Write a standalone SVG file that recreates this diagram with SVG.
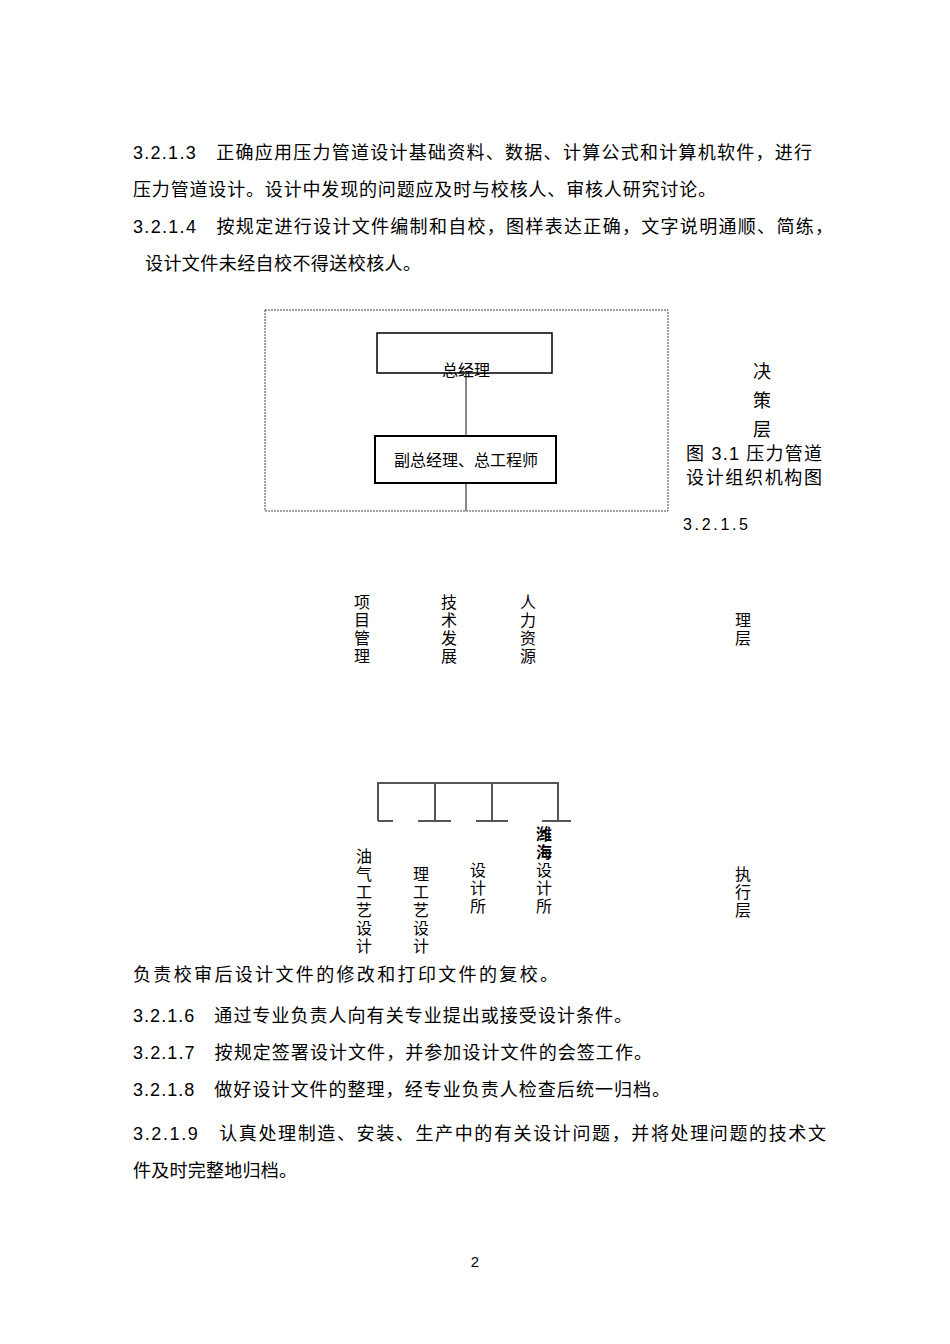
<svg xmlns="http://www.w3.org/2000/svg" width="950" height="1344" viewBox="0 0 950 1344">
<style>
text{font-family:"Liberation Sans","Noto Sans CJK SC",sans-serif;fill:#000}
.b{font-size:18px}
.v{font-size:16px}
.box{fill:#fff;stroke:#000}
.ln{stroke:#888;stroke-width:2;fill:none}
.ln2{stroke:#555;stroke-width:2;fill:none}
</style>
<rect width="950" height="1344" fill="#fff"/>
<g class="b" lengthAdjust="spacing">
<text x="133" y="159" textLength="679">3.2.1.3　正确应用压力管道设计基础资料、数据、计算公式和计算机软件，进行</text>
<text x="133" y="196" textLength="583">压力管道设计。设计中发现的问题应及时与校核人、审核人研究讨论。</text>
<text x="133" y="233" textLength="700">3.2.1.4　按规定进行设计文件编制和自校，图样表达正确，文字说明通顺、简练，</text>
<text x="145" y="270" textLength="276">设计文件未经自校不得送校核人。</text>
<text x="133" y="981" textLength="425">负责校审后设计文件的修改和打印文件的复校。</text>
<text x="133" y="1022" textLength="499">3.2.1.6　通过专业负责人向有关专业提出或接受设计条件。</text>
<text x="133" y="1059" textLength="519">3.2.1.7　按规定签署设计文件，并参加设计文件的会签工作。</text>
<text x="133" y="1096" textLength="537">3.2.1.8　做好设计文件的整理，经专业负责人检查后统一归档。</text>
<text x="133" y="1140" textLength="693">3.2.1.9　认真处理制造、安装、生产中的有关设计问题，并将处理问题的技术文</text>
<text x="133" y="1177" textLength="164">件及时完整地归档。</text>
</g>
<text x="475" y="1267" text-anchor="middle" font-size="15">2</text>
<rect x="265" y="310" width="403" height="201" fill="none" stroke="#444" stroke-dasharray="2,1"/>
<g id="connectors">
<line class="ln" x1="466" y1="373" x2="466" y2="436"/>
<line class="ln" x1="466" y1="483" x2="466" y2="511"/>
<path class="ln2" d="M378 821V783H558V821M435 783V821M492 783V821M378 821H393M418 821H451M476 821H508M542 821H571"/>
</g>
<g id="n1"><rect class="box" x="377" y="333" width="175" height="40" stroke-width="1.5"/><text x="466" y="376" text-anchor="middle" font-size="16">总经理</text></g>
<g id="n2"><rect class="box" x="375" y="436" width="181" height="47" stroke-width="2"/><text x="466" y="466" text-anchor="middle" font-size="16">副总经理、总工程师</text></g>
<g font-size="18">
<text x="762" y="378" text-anchor="middle">决</text>
<text x="762" y="407" text-anchor="middle">策</text>
<text x="762" y="436" text-anchor="middle">层</text>
</g>
<text x="686" y="460" font-size="18" textLength="136" lengthAdjust="spacing">图 3.1 压力管道</text>
<text x="686" y="484" font-size="18" textLength="136" lengthAdjust="spacing">设计组织机构图</text>
<text x="683" y="530" font-size="16" textLength="65" lengthAdjust="spacing">3.2.1.5</text>
<g class="v" text-anchor="middle">
<g id="c1"><text x="362" y="608">项</text><text x="362" y="626">目</text><text x="362" y="644">管</text><text x="362" y="662">理</text></g>
<g id="c2"><text x="449" y="608">技</text><text x="449" y="626">术</text><text x="449" y="644">发</text><text x="449" y="662">展</text></g>
<g id="c3"><text x="528" y="608">人</text><text x="528" y="626">力</text><text x="528" y="644">资</text><text x="528" y="662">源</text></g>
<g><text x="743" y="626">理</text><text x="743" y="644">层</text></g>
<g id="e1"><text x="364" y="862">油</text><text x="364" y="880">气</text><text x="364" y="898">工</text><text x="364" y="916">艺</text><text x="364" y="934">设</text><text x="364" y="952">计</text></g>
<g id="e2"><text x="421" y="880">理</text><text x="421" y="898">工</text><text x="421" y="916">艺</text><text x="421" y="934">设</text><text x="421" y="952">计</text></g>
<g id="e3"><text x="478" y="876">设</text><text x="478" y="894">计</text><text x="478" y="912">所</text></g>
<g id="e4"><text x="544" y="840" font-weight="bold">潍</text><text x="544" y="858" font-weight="bold">海</text><text x="544" y="876">设</text><text x="544" y="894">计</text><text x="544" y="912">所</text></g>
<g><text x="743" y="880">执</text><text x="743" y="898">行</text><text x="743" y="916">层</text></g>
</g>
</svg>
